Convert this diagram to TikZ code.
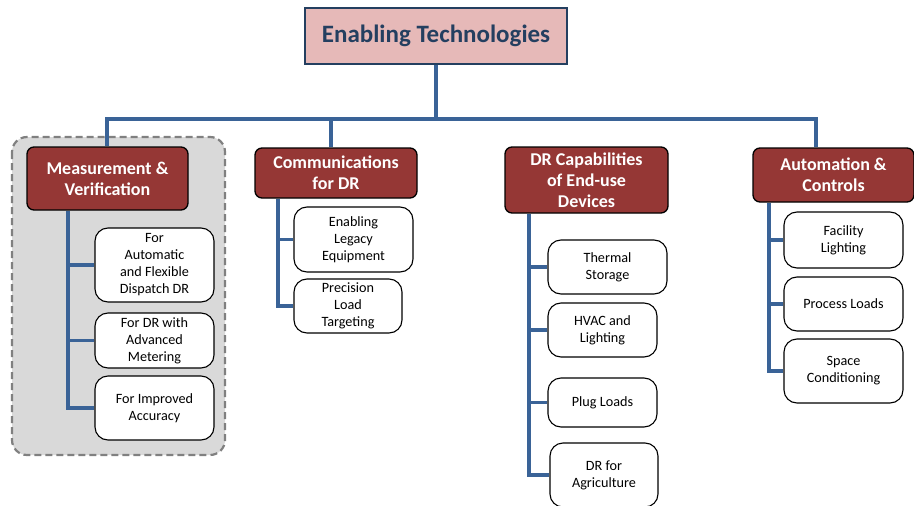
\documentclass[tikz,border=0pt]{standalone}
\usepackage{fontspec}
\setmainfont{Carlito}
\definecolor{hdrred}{HTML}{953735}
\definecolor{linkblue}{HTML}{3A6397}
\definecolor{titlefill}{HTML}{E6B9B8}
\definecolor{titleline}{HTML}{243F60}
\definecolor{panelfill}{HTML}{D9D9D9}
\definecolor{panelline}{HTML}{808080}
\begin{document}
\begin{tikzpicture}[x=1pt,y=-1pt,
  titlebox/.style={draw=titleline, line width=2.6pt, fill=titlefill, text=titleline,
    font=\bfseries\fontsize{25}{29}\selectfont, inner sep=0},
  hdr/.style={draw=black, line width=1.3pt, fill=hdrred, rounded corners=7pt, text=white,
    font=\bfseries\fontsize{18}{21}\selectfont, align=center, inner sep=0},
  leaf/.style={draw=black, line width=1.1pt, fill=white, rounded corners=13pt,
    font=\fontsize{14.2}{17}\selectfont, align=center, inner sep=0},
  conn/.style={draw=linkblue, line width=3.6pt, line join=miter},
  panel/.style={draw=panelline, fill=panelfill, line width=2.2pt, rounded corners=15pt,
    dash pattern=on 7pt off 4pt}]
\useasboundingbox (0,0) rectangle (914,506);

% shaded panel behind the measurement branch
\draw[panel] (12,137) rectangle (225,455);

% root
\node[titlebox, minimum width=262, minimum height=56] (root) at (436,36) {Enabling Technologies};

% category headers
\node[hdr, minimum width=161, minimum height=63] (mv) at (107.5,178.5) {Measurement \&\\Verification};
\node[hdr, minimum width=162, minimum height=50] (cm) at (336,173) {Communications\\for DR};
\node[hdr, minimum width=163, minimum height=66] (dr) at (586.5,180) {DR Capabilities\\of End-use\\Devices};
\node[hdr, minimum width=161, minimum height=54] (ac) at (833.5,175) {Automation \&\\Controls};

% leaves: measurement & verification
\node[leaf, minimum width=119, minimum height=74] (m1) at (154.5,265) {For\\Automatic\\and Flexible\\Dispatch DR};
\node[leaf, minimum width=119, minimum height=55] (m2) at (154.5,340.5) {For DR with\\Advanced\\Metering};
\node[leaf, minimum width=119, minimum height=64] (m3) at (154.5,408) {For Improved\\Accuracy};

% leaves: communications
\node[leaf, minimum width=119, minimum height=65] (c1) at (353.5,239.5) {Enabling\\Legacy\\Equipment};
\node[leaf, minimum width=108, minimum height=54] (c2) at (348,306) {Precision\\Load\\Targeting};

% leaves: end-use devices
\node[leaf, minimum width=119, minimum height=54] (d1) at (607.5,267) {Thermal\\Storage};
\node[leaf, minimum width=109, minimum height=54] (d2) at (602.5,330) {HVAC and\\Lighting};
\node[leaf, minimum width=109, minimum height=49] (d3) at (602.5,402.5) {Plug Loads};
\node[leaf, minimum width=108, minimum height=64] (d4) at (604,475) {DR for\\Agriculture};

% leaves: automation & controls
\node[leaf, minimum width=119, minimum height=56] (a1) at (843.5,240) {Facility\\Lighting};
\node[leaf, minimum width=119, minimum height=54] (a2) at (843.5,304) {Process Loads};
\node[leaf, minimum width=119, minimum height=64] (a3) at (843.5,371) {Space\\Conditioning};

% top-level connectors
\coordinate (jl) at (107,119);
\coordinate (jc) at (331,119);
\coordinate (jr) at (816,119);
\draw[conn] (root.south) -- (root.south |- jl);
\draw[conn] (jl |- mv.north) -- (jl) -- (jr) -- (jr |- ac.north);
\draw[conn] (jc) -- (jc |- cm.north);

% branch spines
\coordinate (sm) at (68,0);
\coordinate (sc) at (278,0);
\coordinate (sd) at (529,0);
\coordinate (sa) at (769,0);

\draw[conn] (sm |- mv.south) |- (m3.west);
\draw[conn] (m1.west) -- (m1.west -| sm);
\draw[conn] (m2.west) -- (m2.west -| sm);

\draw[conn] (sc |- cm.south) |- (c2.west);
\draw[conn] (c1.west) -- (c1.west -| sc);

\draw[conn] (sd |- dr.south) |- (d4.west);
\draw[conn] (d1.west) -- (d1.west -| sd);
\draw[conn] (d2.west) -- (d2.west -| sd);
\draw[conn] (d3.west) -- (d3.west -| sd);

\draw[conn] (sa |- ac.south) |- (a3.west);
\draw[conn] (a1.west) -- (a1.west -| sa);
\draw[conn] (a2.west) -- (a2.west -| sa);
\end{tikzpicture}
\end{document}
